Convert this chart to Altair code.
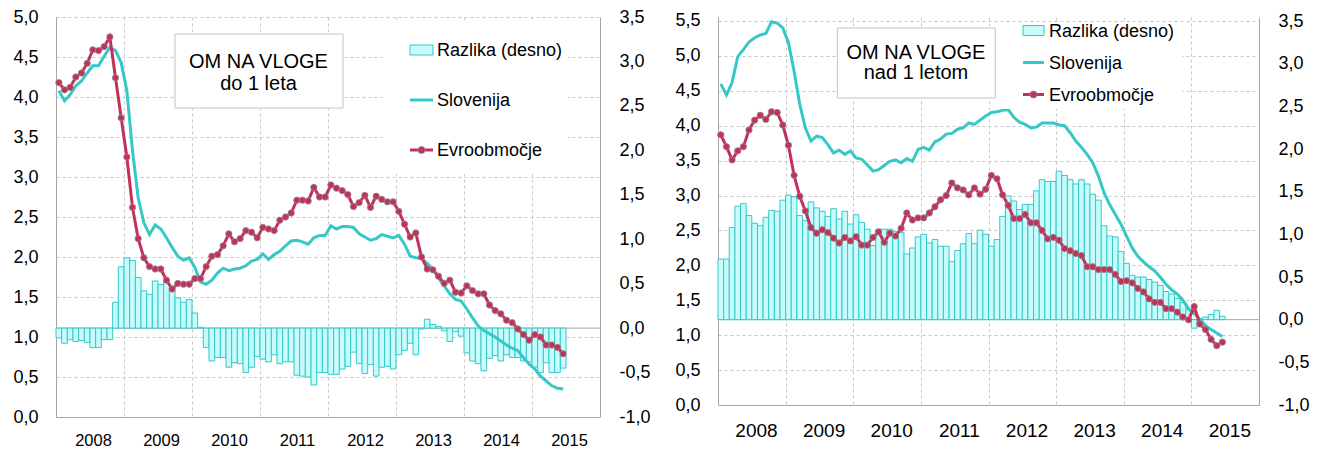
import altair as alt
import pandas as pd

YEARS_START = 2008
LEGEND_LABELS = ["Razlika (desno)", "Slovenija", "Evroobmočje"]
L_TITLE = ["OM NA VLOGE", "do 1 leta"]
R_TITLE = ["OM NA VLOGE", "nad 1 letom"]

# ---- left panel: do 1 leta (monthly, Jan 2008 - Jun 2015) ----
L_evro = [4.18, 4.09, 4.12, 4.25, 4.30, 4.42, 4.59, 4.58, 4.63, 4.75,
          4.24, 3.74, 3.25, 2.62, 2.23, 1.99, 1.88, 1.85, 1.85, 1.71,
          1.60, 1.67, 1.66, 1.66, 1.73, 1.73, 1.88, 2.01, 2.03, 2.14,
          2.29, 2.19, 2.23, 2.33, 2.31, 2.24, 2.37, 2.35, 2.33, 2.46,
          2.50, 2.55, 2.71, 2.71, 2.70, 2.87, 2.75, 2.75,
          2.90, 2.86, 2.83, 2.78, 2.63, 2.68, 2.77, 2.62, 2.76, 2.72, 2.69, 2.69,
          2.57, 2.41, 2.25, 2.30, 2.00, 1.85, 1.84, 1.76, 1.67, 1.71,
          1.56, 1.55, 1.64, 1.58, 1.54, 1.54, 1.40, 1.33, 1.29, 1.21,
          1.18, 1.10, 1.03, 0.96, 1.03, 1.00, 0.90, 0.90, 0.87, 0.79]
L_slo = [4.08, 3.95, 4.03, 4.14, 4.20, 4.30, 4.39, 4.39, 4.51, 4.62,
         4.58, 4.43, 4.08, 3.33, 2.74, 2.43, 2.28, 2.40, 2.35, 2.24,
         2.12, 2.01, 1.96, 1.99, 1.87, 1.69, 1.66, 1.71, 1.80, 1.86,
         1.83, 1.85, 1.86, 1.89, 1.95, 1.97, 2.04, 1.97, 2.03, 2.07,
         2.14, 2.20, 2.21, 2.19, 2.16, 2.24, 2.27, 2.27,
         2.39, 2.35, 2.38, 2.38, 2.37, 2.29, 2.25, 2.21, 2.23, 2.28, 2.26, 2.24,
         2.27, 2.16, 2.01, 1.99, 1.98, 1.92, 1.85, 1.74, 1.64, 1.54,
         1.47, 1.45, 1.35, 1.24, 1.14, 1.08, 1.04, 1.00, 0.95, 0.90,
         0.86, 0.83, 0.74, 0.66, 0.60, 0.51, 0.45, 0.39, 0.36, 0.35]
L_raz = [-0.11, -0.17, -0.13, -0.15, -0.14, -0.16, -0.22, -0.22, -0.13, -0.13,
         0.29, 0.69, 0.79, 0.76, 0.57, 0.42, 0.38, 0.53, 0.49, 0.52,
         0.43, 0.34, 0.29, 0.32, 0.17, 0.01,
         -0.22, -0.37, -0.33, -0.33, -0.44, -0.39, -0.40, -0.50, -0.44, -0.32,
         -0.35, -0.38, -0.30, -0.40, -0.38, -0.38, -0.53, -0.54, -0.55, -0.64, -0.50, -0.50,
         -0.52, -0.52, -0.46, -0.43, -0.27, -0.40, -0.51, -0.41, -0.54, -0.44, -0.43, -0.46,
         -0.30, -0.25, -0.17, -0.30, -0.01, 0.10, 0.04, 0.02, -0.03, -0.15, -0.04, -0.09,
         -0.28, -0.37, -0.40, -0.48, -0.34, -0.31, -0.37, -0.30, -0.33, -0.33, -0.37, -0.38,
         -0.44, -0.50, -0.39, -0.50, -0.50, -0.45]

# ---- right panel: nad 1 letom ----
R_evro = [3.87, 3.70, 3.51, 3.64, 3.70, 3.94, 4.08, 4.15, 4.09, 4.20,
          4.19, 4.01, 3.72, 3.29, 2.99, 2.78, 2.54, 2.46, 2.51, 2.47,
          2.39, 2.32, 2.40, 2.35, 2.41, 2.29, 2.29, 2.40, 2.48, 2.33,
          2.46, 2.42, 2.53, 2.75, 2.65, 2.68, 2.68, 2.75, 2.84, 2.94,
          3.00, 3.18, 3.11, 3.08, 3.01, 3.11, 3.02, 3.09,
          3.29, 3.24, 3.01, 2.86, 2.67, 2.67, 2.73, 2.61, 2.61, 2.50, 2.38, 2.40,
          2.36, 2.24, 2.21, 2.17, 2.14, 1.98, 1.98, 1.94, 1.94, 1.94,
          1.87, 1.77, 1.78, 1.75, 1.67, 1.62, 1.52, 1.47, 1.47, 1.38,
          1.38, 1.33, 1.26, 1.22, 1.41, 1.16, 1.08, 0.94, 0.85, 0.90]
R_slo = [4.60, 4.44, 4.62, 4.99, 5.09, 5.20, 5.26, 5.30, 5.32, 5.49,
         5.47, 5.40, 5.19, 4.78, 4.31, 3.97, 3.78, 3.85, 3.83, 3.73,
         3.61, 3.65, 3.59, 3.64, 3.54, 3.52, 3.44, 3.35, 3.37, 3.43,
         3.49, 3.51, 3.47, 3.53, 3.49, 3.66, 3.69, 3.65, 3.77, 3.81,
         3.88, 3.89, 3.95, 3.97, 4.04, 4.02, 4.08, 4.14,
         4.19, 4.20, 4.22, 4.23, 4.12, 4.05, 4.02, 3.97, 3.98, 4.04, 4.04, 4.04,
         4.01, 4.00, 3.90, 3.78, 3.69, 3.59, 3.47, 3.28, 3.04, 2.87,
         2.73, 2.59, 2.42, 2.25, 2.13, 2.05, 1.98, 1.92, 1.83, 1.73,
         1.65, 1.59, 1.50, 1.38, 1.31, 1.23, 1.14, 1.08, 1.03, 0.98]
R_raz = [0.71, 0.71, 1.08, 1.33, 1.36, 1.22, 1.13, 1.10, 1.20, 1.28,
         1.27, 1.40, 1.46, 1.44, 1.22, 1.16, 1.38, 1.31, 1.27, 1.21,
         1.30, 1.18, 1.27, 1.12, 1.23, 1.14, 1.06, 0.87, 1.06, 1.06,
         1.06, 1.03, 1.02, 0.77, 0.84, 0.97, 1.00, 0.90, 0.94, 0.86,
         0.86, 0.68, 0.81, 0.89, 1.01, 0.89, 1.05, 1.00,
         0.86, 0.94, 1.21, 1.45, 1.39, 1.29, 1.35, 1.35, 1.51, 1.64, 1.62, 1.62,
         1.74, 1.69, 1.64, 1.59, 1.64, 1.59, 1.47, 1.40, 1.10, 0.98,
         0.97, 0.80, 0.66, 0.52, 0.50, 0.50, 0.47, 0.44, 0.40, 0.33,
         0.30, 0.25, 0.20, 0.12, -0.10, 0.01, 0.03, 0.06, 0.11, 0.04]

L_LEFT_TICKS = [i * 0.5 for i in range(11)]
R_LEFT_TICKS = [i * 0.5 for i in range(12)]
RIGHT_TICKS = [-1.0 + i * 0.5 for i in range(10)]

FONT = "Liberation Sans"
C_SLO = "#36C8C8"
C_FILL = "#C8FCFC"
C_EVRO = "#C4305A"
C_GRID = "#C8C8C8"
C_AXIS = "#A6A6A6"
COMMA = "replace(replace(format(datum.value, '.1f'), '.', ','), '\u2212', '-')"
YEAR_EXPR = "'' + (%d + floor(datum.value / 12))" % YEARS_START


def frame(slo, evro, raz):
    n = len(slo)
    return pd.DataFrame({
        "t": list(range(n)),
        "t1": [i + 1 for i in range(n)],
        "tc": [i + 0.5 for i in range(n)],
        "slo": slo, "evro": evro, "raz": raz,
        "zero": [0.0] * n,
    })


def one():
    return pd.DataFrame({"k": [0]})


def panel(df, w, h, ldom, lticks, rdom, year_size, year_pad, lab_off,
          titles, box, tpos, leg):
    xscale = alt.Scale(domain=[0, 96], nice=False, zero=False)
    xaxis = alt.Axis(values=list(range(0, 96, 12)), labelExpr=YEAR_EXPR,
                     labelOffset=lab_off, labelFontSize=year_size,
                     labelPadding=year_pad, labelFont=FONT, labelColor="black",
                     grid=True, gridDash=[3, 3], gridColor=C_GRID, ticks=False,
                     domainColor=C_AXIS, title=None, labelOverlap=False,
                     labelBound=False, labelFlush=False)
    lscale = alt.Scale(domain=ldom, nice=False, zero=False)
    rscale = alt.Scale(domain=rdom, nice=False, zero=False)
    laxis = alt.Axis(values=lticks, labelExpr=COMMA, orient="left", grid=True,
                     gridDash=[3, 3], gridColor=C_GRID, ticks=False,
                     domainColor=C_AXIS, labelFontSize=18, labelFont=FONT,
                     labelPadding=18, title=None, labelColor="black")
    raxis = alt.Axis(values=RIGHT_TICKS, labelExpr=COMMA, orient="right",
                     grid=False, ticks=False, domainColor=C_AXIS,
                     labelFontSize=18, labelFont=FONT, labelPadding=19,
                     title=None, labelColor="black")

    zero_rule = alt.Chart(pd.DataFrame({"zero": [0.0]})).mark_rule(
        color=C_AXIS, strokeWidth=1).encode(
        y=alt.Y("zero:Q", scale=rscale, axis=raxis))
    bars = alt.Chart(df).mark_rect(fill=C_FILL, stroke=C_SLO, strokeWidth=1).encode(
        x=alt.X("t:Q", scale=xscale, axis=xaxis), x2="t1:Q",
        y=alt.Y("raz:Q", scale=rscale, axis=raxis), y2="zero:Q")
    bar_layer = alt.layer(zero_rule, bars)

    slo_line = alt.Chart(df).mark_line(color=C_SLO, strokeWidth=3).encode(
        x=alt.X("tc:Q", scale=xscale, axis=xaxis),
        y=alt.Y("slo:Q", scale=lscale, axis=laxis))
    evro_line = alt.Chart(df).mark_line(color=C_EVRO, strokeWidth=3).encode(
        x=alt.X("tc:Q", scale=xscale, axis=xaxis),
        y=alt.Y("evro:Q", scale=lscale, axis=laxis))
    evro_pts = alt.Chart(df).mark_circle(color=C_EVRO, opacity=1, size=40,
                                         stroke="#8C8C8C", strokeWidth=0.8).encode(
        x=alt.X("tc:Q", scale=xscale, axis=xaxis),
        y=alt.Y("evro:Q", scale=lscale, axis=laxis))
    line_layer = alt.layer(slo_line, evro_line, evro_pts)

    # annotation box with title
    bx0, bx1, by0, by1 = box
    tbox = alt.Chart(one()).mark_rect(fill="white", stroke="#C4C4C4", strokeWidth=1).encode(
        x=alt.value(bx0), x2=alt.value(bx1), y=alt.value(by0), y2=alt.value(by1))
    tx, ty1, ty2 = tpos
    t1 = alt.Chart(one()).mark_text(text=titles[0], font=FONT, fontSize=20,
                                    align="center", baseline="middle", color="black").encode(
        x=alt.value(tx), y=alt.value(ty1))
    t2 = alt.Chart(one()).mark_text(text=titles[1], font=FONT, fontSize=20,
                                    align="center", baseline="middle", color="black").encode(
        x=alt.value(tx), y=alt.value(ty2))

    # legend
    (lbx0, lbx1, lby0, lby1), sx0, sx1, tx0, ys = leg
    lbg = alt.Chart(one()).mark_rect(fill="white", strokeWidth=0).encode(
        x=alt.value(lbx0), x2=alt.value(lbx1), y=alt.value(lby0), y2=alt.value(lby1))
    sw = alt.Chart(one()).mark_rect(fill=C_FILL, stroke=C_SLO, strokeWidth=1).encode(
        x=alt.value(sx0), x2=alt.value(sx1), y=alt.value(ys[0] - 5), y2=alt.value(ys[0] + 5))
    sl = alt.Chart(one()).mark_rule(color=C_SLO, strokeWidth=3).encode(
        x=alt.value(sx0), x2=alt.value(sx1), y=alt.value(ys[1]))
    el = alt.Chart(one()).mark_rule(color=C_EVRO, strokeWidth=3).encode(
        x=alt.value(sx0), x2=alt.value(sx1), y=alt.value(ys[2]))
    ep = alt.Chart(one()).mark_circle(color=C_EVRO, opacity=1, size=50,
                                      stroke="#8C8C8C", strokeWidth=0.8).encode(
        x=alt.value((sx0 + sx1) / 2), y=alt.value(ys[2]))
    texts = [alt.Chart(one()).mark_text(text=LEGEND_LABELS[i], font=FONT, fontSize=18,
                                        align="left", baseline="middle", color="black").encode(
        x=alt.value(tx0), y=alt.value(ys[i] + 1)) for i in range(3)]

    return alt.layer(bar_layer, line_layer, tbox, t1, t2, lbg, sw, sl, el, ep, *texts).resolve_scale(
        y="independent").properties(width=w, height=h)


left = panel(frame(L_slo, L_evro, L_raz), 544, 400, [0, 5.0], L_LEFT_TICKS, [-1.0, 3.5],
             16.5, 15, 37,
             L_TITLE, (119, 287, 17, 91), (202.5, 45, 67),
             ((327, 512, 3, 157), 354, 377, 381, (33, 83, 133)))
right = panel(frame(R_slo, R_evro, R_raz), 541, 388, [0, 5.5 + 4 / 69.82], R_LEFT_TICKS,
              [-1.0, 3.5 + 4 / 85.33],
              19, 16, 38,
              R_TITLE, (119.3, 277.3, 11, 81), (198, 36, 56),
              ((278, 464, 5, 92), 305, 326, 331, (13.5, 45.5, 77.5)))

chart = alt.hconcat(left, right, spacing=23).properties(
    padding={"left": 4, "top": 0, "right": 0, "bottom": 0},
    background="white",
).configure_view(stroke=None)

chart.save("out.html", embed_options={"renderer": "svg", "actions": False})
